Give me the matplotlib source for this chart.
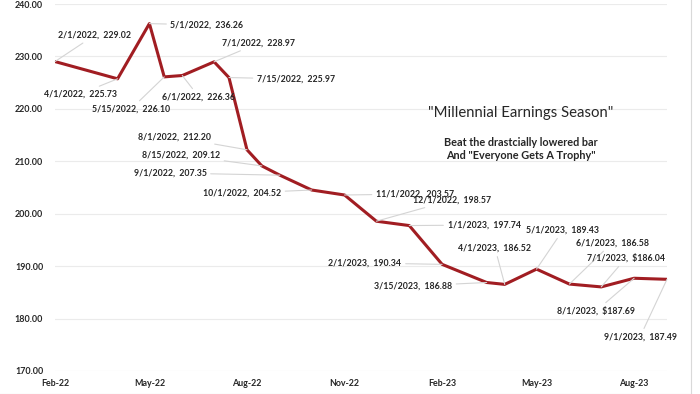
from datetime import datetime

import matplotlib
matplotlib.use("Agg")
import matplotlib.dates as mdates
from matplotlib import pyplot as plt
from matplotlib.lines import Line2D

# data points
dates = ["2022-02-01", "2022-04-01", "2022-05-01", "2022-05-15", "2022-06-01",
         "2022-07-01", "2022-07-15", "2022-08-01", "2022-08-15", "2022-09-01",
         "2022-10-01", "2022-11-01", "2022-12-01", "2023-01-01", "2023-02-01",
         "2023-03-15", "2023-04-01", "2023-05-01", "2023-06-01", "2023-07-01",
         "2023-08-01", "2023-09-01"]
values = [229.02, 225.73, 236.26, 226.10, 226.36, 228.97, 225.97, 212.20,
          209.12, 207.35, 204.52, 203.57, 198.57, 197.74, 190.34, 186.88,
          186.52, 189.43, 186.58, 186.04, 187.69, 187.49]
dollar_labels = ["2023-07-01", "2023-08-01"]
y_ticks = [170, 180, 190, 200, 210, 220, 230, 240]

# label centres in pixels (from top-left of the 700x394 image)
label_pos = [(95, 35), (80, 94), (207, 25), (131, 109), (199, 97),
             (259, 43), (296, 79), (174, 137), (181, 155), (170, 173),
             (242, 193), (415, 194), (452, 200), (484, 225), (365, 263),
             (413, 286), (495, 248), (563, 230), (612, 243), (626, 258),
             (596, 311), (640, 337)]

W, H = 700, 394
dts = [datetime.strptime(d, "%Y-%m-%d") for d in dates]

font = "Lato"
txt_col = "#262626"
line_col = "#A11D22"

fig = plt.figure(figsize=(W / 100, H / 100), dpi=100)
ax = fig.add_axes([55 / W, 1 - 371 / H, 612 / W, 367 / H])

ax.plot(dts, values, color=line_col, lw=2.2, solid_joinstyle="round", zorder=3)

ax.set_xlim(datetime(2022, 2, 1), datetime(2023, 9, 1))
ax.set_ylim(170, 240)
ax.set_yticks(y_ticks)
ax.yaxis.set_major_formatter(plt.FuncFormatter(lambda v, p: f"{v:.2f}"))
ax.xaxis.set_major_locator(mdates.MonthLocator(bymonth=[2, 5, 8, 11]))
ax.xaxis.set_major_formatter(mdates.DateFormatter("%b-%y"))

ax.grid(axis="y", color="#ebebeb", lw=0.8)
ax.set_axisbelow(True)
for s in ax.spines.values():
	s.set_visible(False)
ax.tick_params(axis="both", length=0, labelsize=6.4, labelcolor=txt_col)
ax.tick_params(axis="y", pad=8.5)
ax.tick_params(axis="x", pad=6)
for lab in ax.get_xticklabels() + ax.get_yticklabels():
	lab.set_fontfamily(font)
	lab.set_fontweight("bold")

# data labels with leader lines
for d, dt, v, (cx, cy) in zip(dates, dts, values, label_pos):
	pre = "$" if d in dollar_labels else ""
	text = f"{dt.month}/{dt.day}/{dt.year},  {pre}{v:.2f}"
	ax.annotate(text, xy=(dt, v), xytext=(cx, H - cy), textcoords="figure pixels",
		ha="center", va="center", fontsize=6.3, fontweight="bold",
		family=font, color=txt_col, zorder=4,
		arrowprops=dict(arrowstyle="-", color="#d4d4d4", lw=0.8,
			shrinkA=1, shrinkB=0))

# title block
fig.text(521 / W, 1 - 113 / H, '"Millennial Earnings Season"', ha="center",
	va="center", fontsize=10.7, family=font, color=txt_col)
fig.text(521 / W, 1 - 149 / H, 'Beat the drastcially lowered bar\nAnd "Everyone Gets A Trophy"',
	ha="center", va="center", fontsize=7.8, fontweight="bold", family=font,
	color=txt_col, linespacing=1.3)

# chart area border (right and bottom)
fig.add_artist(Line2D([691 / W, 691 / W], [0, 1], color="#d9d9d9", lw=0.8))
fig.add_artist(Line2D([0, 691 / W], [0.5 / H, 0.5 / H], color="#d9d9d9", lw=0.8))

fig.savefig("out.png", dpi=100)
